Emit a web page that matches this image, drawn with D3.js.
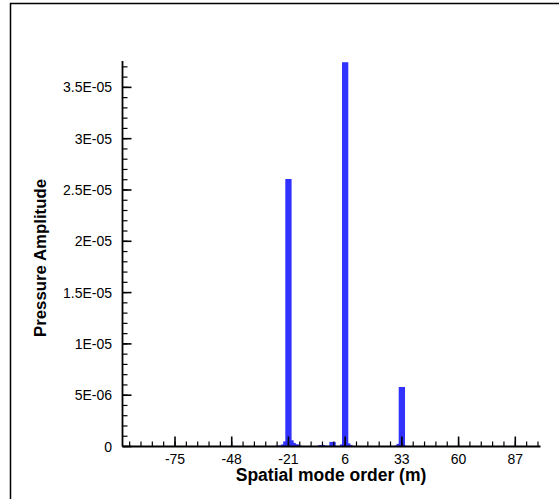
<!DOCTYPE html>
<html>
<head>
<meta charset="utf-8">
<script src="https://cdn.jsdelivr.net/npm/d3@7"></script>
<style>
  body { margin: 0; background: #fff; }
  text { font-family: "Liberation Sans", Arial, sans-serif; }
</style>
</head>
<body>
<svg id="chart"></svg>
<script>
const WIDTH = 559;
const HEIGHT = 499;

// mode order m and pressure amplitude (modes not listed are ~0)
const modes = [-30, -29, -28, -27, -26, -25, -24, -23, -22, -21, -20, -19, -18, -17, -16,
    -6, -5, -4, -1, 0, 1, 5, 6, 7, 8, 9, 30, 31, 32, 33, 34,
    42, 44, 46, 48, 50, 52, 54, 56, 58, 60, 62, 64, 66, 68, 70, 72, 74, 76, 78, 80, 82];
const amps = [0.4e-7, 0.4e-7, 0.5e-7, 0.5e-7, 0.6e-7, 0.8e-7, 1.0e-7, 2.0e-7, 5.0e-7, 2.607e-5, 6.0e-7, 3.5e-7, 2.0e-7, 2.0e-7, 0.8e-7,
    0.8e-7, 1.5e-7, 0.8e-7, 0.8e-7, 4.5e-7, 0.6e-7, 2.0e-7, 3.745e-5, 3.0e-7, 1.5e-7, 0.6e-7, 0.5e-7, 1.0e-7, 2.6e-7, 0.58e-5, 0.8e-7,
    0.5e-7, 0.5e-7, 0.5e-7, 0.5e-7, 0.5e-7, 0.5e-7, 0.5e-7, 0.5e-7, 0.5e-7, 0.5e-7, 0.5e-7, 0.5e-7, 0.5e-7, 0.5e-7, 0.5e-7, 0.5e-7, 0.5e-7, 0.5e-7, 0.5e-7, 0.5e-7, 0.5e-7];

const xMajorTicks = [-75, -48, -21, 6, 33, 60, 87];
const yMajorTicks = [0, 5e-6, 1e-5, 1.5e-5, 2e-5, 2.5e-5, 3e-5, 3.5e-5];
const yTickLabels = ["0", "5E-06", "1E-05", "1.5E-05", "2E-05", "2.5E-05", "3E-05", "3.5E-05"];

const data = modes.map((m, i) => ({ m: m, v: amps[i] }));

const svg = d3.select("#chart")
    .attr("width", WIDTH)
    .attr("height", HEIGHT);

// outer frame
svg.append("rect")
    .attr("x", 10.5).attr("y", 3.5)
    .attr("width", 600).attr("height", 600)
    .attr("fill", "none")
    .attr("stroke", "#000")
    .attr("stroke-width", 1.5);

const x = d3.scaleLinear().domain([-100, 99]).range([122.5, 540.5]);
const y = d3.scaleLinear().domain([0, 3.757e-5]).range([446.5, 61]);

const barW = x(1.5) - x(-1.5);

svg.append("g")
    .selectAll("rect")
    .data(data)
    .join("rect")
    .attr("x", d => x(d.m) - barW / 2)
    .attr("y", d => y(d.v))
    .attr("width", barW)
    .attr("height", d => y(0) - y(d.v))
    .attr("fill", "#3232ff");

// minor ticks
const xMinor = d3.range(-75 - 27, 100, 5.4).filter(t => t > -100 && t < 99);
const yMinor = d3.range(0, 3.757e-5, 1e-6);

const tickLayer = svg.append("g").attr("stroke", "#000");

tickLayer.selectAll(".xminor")
    .data(xMinor)
    .join("line")
    .attr("x1", d => x(d)).attr("x2", d => x(d))
    .attr("y1", y(0)).attr("y2", y(0) - 5)
    .attr("stroke-width", 1.2);

tickLayer.selectAll(".xmajor")
    .data(xMajorTicks)
    .join("line")
    .attr("x1", d => x(d)).attr("x2", d => x(d))
    .attr("y1", y(0)).attr("y2", y(0) - 10)
    .attr("stroke-width", 1.6);

tickLayer.selectAll(".yminor")
    .data(yMinor)
    .join("line")
    .attr("x1", x(-100)).attr("x2", x(-100) + 5)
    .attr("y1", d => y(d)).attr("y2", d => y(d))
    .attr("stroke-width", 1.2);

tickLayer.selectAll(".ymajor")
    .data(yMajorTicks)
    .join("line")
    .attr("x1", x(-100)).attr("x2", x(-100) + 9)
    .attr("y1", d => y(d)).attr("y2", d => y(d))
    .attr("stroke-width", 1.6);

// axis lines
svg.append("line")
    .attr("x1", x(-100)).attr("x2", x(99))
    .attr("y1", y(0)).attr("y2", y(0))
    .attr("stroke", "#000").attr("stroke-width", 1.8);
svg.append("line")
    .attr("x1", x(-100)).attr("x2", x(-100))
    .attr("y1", y(0)).attr("y2", y.range()[1])
    .attr("stroke", "#000").attr("stroke-width", 1.8);

// tick labels
svg.append("g")
    .selectAll("text")
    .data(xMajorTicks)
    .join("text")
    .attr("x", d => x(d))
    .attr("y", 463.5)
    .attr("text-anchor", "middle")
    .attr("font-size", 14)
    .text(d => d);

svg.append("g")
    .selectAll("text")
    .data(yMajorTicks)
    .join("text")
    .attr("x", 112)
    .attr("y", d => y(d) + 5)
    .attr("text-anchor", "end")
    .attr("font-size", 14)
    .text((d, i) => yTickLabels[i]);

// axis titles
svg.append("text")
    .attr("x", 331)
    .attr("y", 481)
    .attr("text-anchor", "middle")
    .attr("font-size", 17.5)
    .attr("font-weight", "bold")
    .text("Spatial mode order (m)");

svg.append("text")
    .attr("transform", "translate(46,258) rotate(-90)")
    .attr("text-anchor", "middle")
    .attr("font-size", 16.8)
    .attr("font-weight", "bold")
    .text("Pressure Amplitude");
</script>
</body>
</html>
